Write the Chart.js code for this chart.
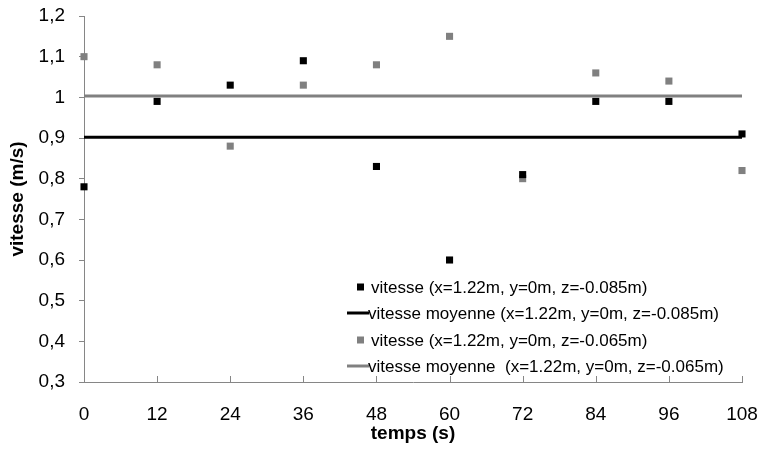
<!DOCTYPE html>
<html>
<head>
<meta charset="utf-8">
<script src="https://cdn.jsdelivr.net/npm/chart.js@4.4.7/dist/chart.umd.min.js"></script>
<style>
  html, body { margin: 0; padding: 0; background: #fff; }
  #wrap { width: 763px; height: 450px; }
</style>
</head>
<body>
<div id="wrap"><canvas id="vitesseChart" width="763" height="450"></canvas></div>
<script>
// temps (s)
const times = [0, 12, 24, 36, 48, 60, 72, 84, 96, 108];
// vitesse (m/s) at z=-0.085m and z=-0.065m
const vitesseLow = [0.78, 0.99, 1.03, 1.09, 0.83, 0.60, 0.81, 0.99, 0.99, 0.91];
const vitesseHigh = [1.10, 1.08, 0.88, 1.03, 1.08, 1.15, 0.80, 1.06, 1.04, 0.82];
// mean lines
const meanLow = 0.902;
const meanHigh = 1.003;
const legendLabels = [
  'vitesse (x=1.22m, y=0m, z=-0.085m)',
  'vitesse moyenne (x=1.22m, y=0m, z=-0.085m)',
  'vitesse (x=1.22m, y=0m, z=-0.065m)',
  'vitesse moyenne  (x=1.22m, y=0m, z=-0.065m)'
];

const FONT = '"Liberation Sans", Arial, sans-serif';
const GRAY = '#808080';
const AXIS = '#868686';

const toPoints = (vals) => vals.map((v, i) => ({ x: times[i], y: v }));
const meanPoints = (m) => [{ x: times[0], y: m }, { x: times[times.length - 1], y: m }];

// inward x tick marks + in-plot legend
const decorations = {
  id: 'decorations',
  afterDraw(chart) {
    const ctx = chart.ctx;
    const xs = chart.scales.x;
    const bottom = chart.chartArea.bottom;
    ctx.save();
    ctx.strokeStyle = AXIS;
    ctx.lineWidth = 1;
    times.forEach((t) => {
      const px = Math.round(xs.getPixelForValue(t)) + 0.5;
      ctx.beginPath();
      ctx.moveTo(px, bottom);
      ctx.lineTo(px, bottom - 6);
      ctx.stroke();
    });

    const rows = [287, 313, 340, 366];
    const kinds = [
      { type: 'mark', color: '#000' },
      { type: 'line', color: '#000' },
      { type: 'mark', color: GRAY },
      { type: 'line', color: GRAY }
    ];
    ctx.font = '17px ' + FONT;
    ctx.textBaseline = 'middle';
    rows.forEach((y, i) => {
      const k = kinds[i];
      if (k.type === 'mark') {
        ctx.fillStyle = k.color;
        ctx.fillRect(357, y - 3.5, 7, 7);
        ctx.fillStyle = '#000';
        ctx.fillText(legendLabels[i], 371, y + 1);
      } else {
        ctx.strokeStyle = k.color;
        ctx.lineWidth = 3;
        ctx.beginPath();
        ctx.moveTo(347, y);
        ctx.lineTo(369, y);
        ctx.stroke();
        ctx.fillStyle = '#000';
        ctx.fillText(legendLabels[i], 368, y + 1);
      }
    });
    ctx.restore();
  }
};

new Chart(document.getElementById('vitesseChart').getContext('2d'), {
  data: {
    datasets: [
      {
        type: 'line',
        label: legendLabels[3],
        data: meanPoints(meanHigh),
        borderColor: GRAY,
        borderWidth: 3,
        pointRadius: 0,
        order: 4
      },
      {
        type: 'line',
        label: legendLabels[1],
        data: meanPoints(meanLow),
        borderColor: '#000',
        borderWidth: 3,
        pointRadius: 0,
        order: 3
      },
      {
        type: 'scatter',
        label: legendLabels[2],
        data: toPoints(vitesseHigh),
        pointStyle: 'rect',
        pointRadius: 5,
        borderWidth: 0,
        backgroundColor: GRAY,
        clip: false,
        order: 2
      },
      {
        type: 'scatter',
        label: legendLabels[0],
        data: toPoints(vitesseLow),
        pointStyle: 'rect',
        pointRadius: 5,
        borderWidth: 0,
        backgroundColor: '#000',
        clip: false,
        order: 1
      }
    ]
  },
  options: {
    responsive: false,
    animation: false,
    layout: { padding: { top: 16, right: 21, left: 0, bottom: 0 } },
    plugins: {
      legend: { display: false },
      tooltip: { enabled: false }
    },
    scales: {
      x: {
        type: 'linear',
        min: 0,
        max: 108,
        afterFit: (scale) => {
          scale.height = 68;
          scale.paddingLeft = 0;
          scale.paddingRight = 0;
        },
        border: { display: true, color: AXIS, width: 1 },
        grid: { display: true, drawOnChartArea: false, drawTicks: false },
        ticks: {
          stepSize: 12,
          padding: 21,
          color: '#000',
          maxRotation: 0,
          font: { family: FONT, size: 19 }
        },
        title: {
          display: true,
          text: 'temps (s)',
          color: '#000',
          padding: { top: 0, bottom: 5 },
          font: { family: FONT, size: 19, weight: 'bold' }
        }
      },
      y: {
        min: 0.3,
        max: 1.2,
        afterFit: (scale) => {
          scale.width = 84;
          scale.paddingTop = 0;
          scale.paddingBottom = 0;
        },
        border: { display: true, color: AXIS, width: 1 },
        grid: { display: true, drawOnChartArea: false, tickLength: 5, color: AXIS },
        ticks: {
          stepSize: 0.1,
          padding: 14,
          color: '#000',
          font: { family: FONT, size: 19 },
          callback: (v) => String(Number(v.toFixed(1))).replace('.', ',')
        },
        title: {
          display: true,
          text: 'vitesse (m/s)',
          color: '#000',
          padding: { top: 6, bottom: 0 },
          font: { family: FONT, size: 19, weight: 'bold' }
        }
      }
    }
  },
  plugins: [decorations]
});
</script>
</body>
</html>
